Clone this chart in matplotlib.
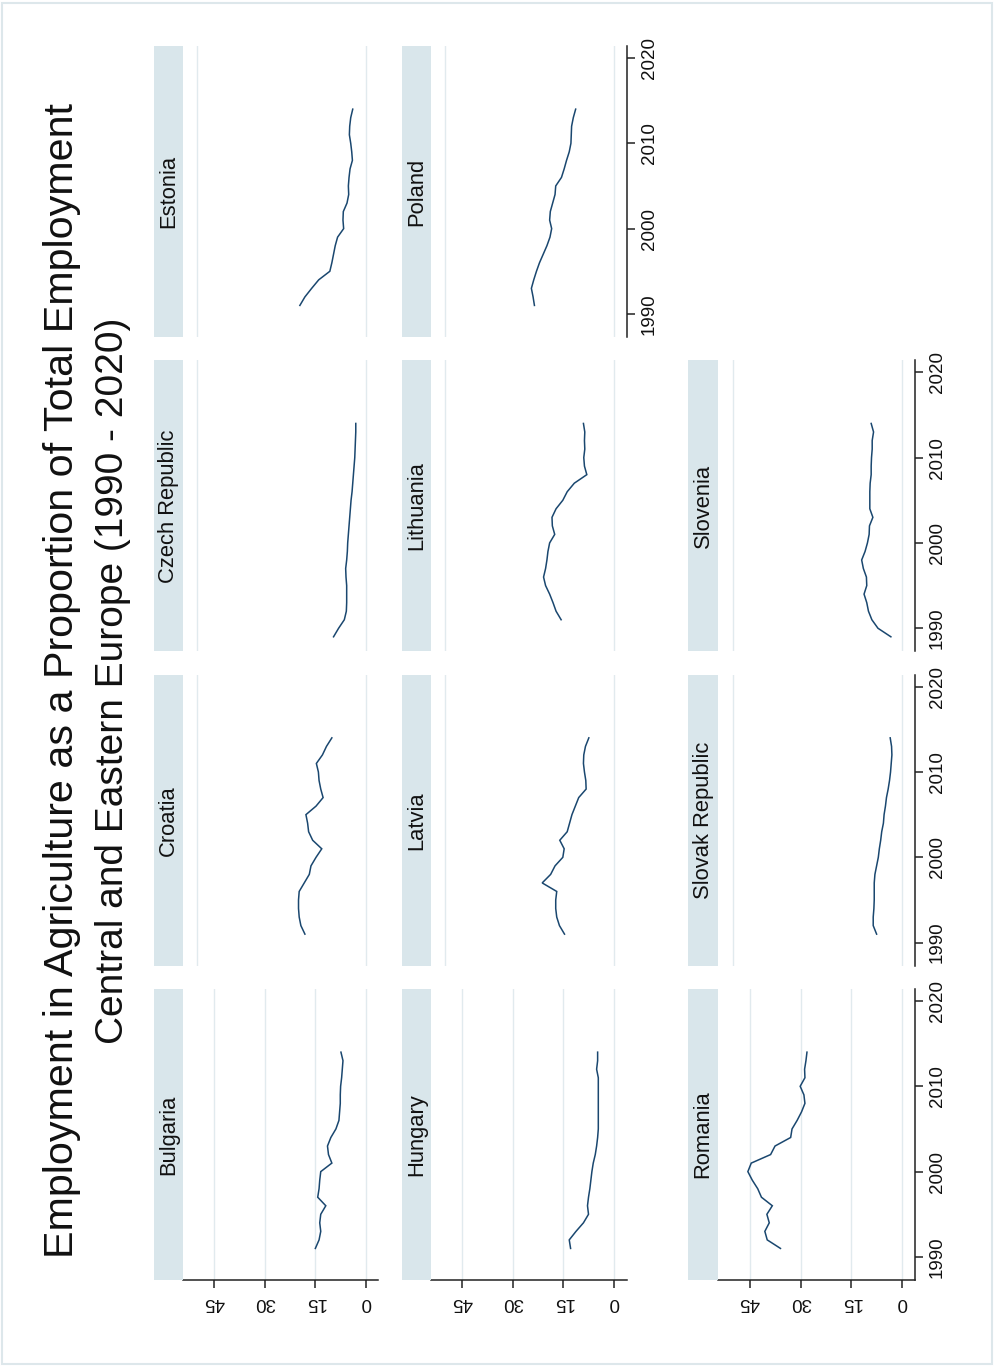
import matplotlib
matplotlib.use("Agg")
import matplotlib.pyplot as plt
from matplotlib.patches import Rectangle

plt.rcParams['font.family'] = ['Liberation Sans', 'DejaVu Sans']

# ---- data: agricultural employment, % of total employment ----
years_91 = list(range(1991, 2015))
years_89 = list(range(1989, 2015))

bulgaria = [14.9, 13.8, 13.3, 13.6, 13.3, 11.8, 14.2, 13.8, 13.6, 13.3, 10.0, 11.0,
            11.3, 10.3, 8.8, 7.9, 7.7, 7.5, 7.5, 7.4, 7.1, 6.9, 6.7, 7.3]
croatia = [18.0, 19.2, 19.7, 19.9, 19.9, 19.7, 18.2, 16.7, 16.2, 14.7, 13.0, 15.7,
           16.9, 17.2, 17.7, 14.7, 12.6, 13.3, 13.8, 14.0, 14.6, 12.8, 11.6, 10.0]
czech = [9.5, 8.0, 6.3, 5.7, 5.6, 5.6, 5.6, 5.8, 5.9, 5.6, 5.4, 5.3, 5.1,
         4.9, 4.7, 4.5, 4.3, 4.0, 3.8, 3.6, 3.4, 3.2, 3.1, 3.0, 2.9, 2.9]
estonia = [19.5, 18.0, 16.0, 13.9, 10.6, 10.0, 9.5, 9.0, 8.3, 6.5, 6.7, 6.6,
           5.5, 5.0, 5.1, 4.9, 4.6, 3.9, 4.1, 4.4, 4.8, 4.7, 4.4, 3.8]
hungary = [12.9, 13.3, 11.3, 9.1, 7.6, 7.9, 7.6, 7.2, 6.9, 6.6, 6.2, 5.6,
           5.2, 4.9, 4.7, 4.7, 4.7, 4.7, 4.7, 4.7, 4.7, 5.2, 4.9, 4.9]
latvia = [14.7, 16.2, 17.0, 17.3, 17.3, 17.0, 21.3, 18.8, 17.5, 15.2, 14.8, 16.1,
          13.9, 13.2, 12.5, 11.5, 10.5, 8.3, 8.4, 8.8, 9.1, 9.0, 8.5, 7.5]
lithuania = [15.7, 17.2, 18.1, 19.1, 20.3, 20.9, 20.3, 19.9, 19.6, 19.1, 17.6, 18.3,
             18.4, 17.2, 15.2, 13.9, 11.8, 8.1, 8.8, 9.0, 8.7, 8.8, 8.7, 9.1]
poland = [23.6, 24.0, 24.5, 23.8, 23.0, 22.1, 21.0, 19.9, 19.0, 18.5, 19.1, 18.9,
          18.2, 17.5, 17.3, 15.6, 14.8, 14.1, 13.3, 12.8, 12.7, 12.6, 12.1, 11.4]
romania = [35.9, 39.8, 40.5, 39.2, 39.9, 38.3, 41.5, 42.6, 44.2, 45.5, 44.5, 38.8,
           37.5, 32.9, 32.5, 31.0, 29.7, 28.7, 29.0, 30.1, 28.7, 28.8, 28.4, 28.1]
slovakia = [7.6, 8.6, 8.6, 8.4, 8.3, 8.3, 8.3, 8.1, 7.6, 7.1, 6.8, 6.4,
            6.1, 5.6, 5.4, 5.0, 4.7, 4.2, 3.8, 3.5, 3.3, 3.1, 3.2, 3.6]
slovenia = [3.4, 7.2, 9.0, 10.0, 10.5, 11.3, 10.5, 10.6, 11.5, 12.0, 11.0, 10.3, 9.8,
            9.7, 8.7, 9.6, 9.6, 9.6, 9.5, 9.2, 9.2, 9.1, 8.9, 8.9, 8.5, 9.2]

series = {
    "Bulgaria": (years_91, bulgaria),
    "Croatia": (years_91, croatia),
    "Czech Republic": (years_89, czech),
    "Estonia": (years_91, estonia),
    "Hungary": (years_91, hungary),
    "Latvia": (years_91, latvia),
    "Lithuania": (years_91, lithuania),
    "Poland": (years_91, poland),
    "Romania": (years_91, romania),
    "Slovak Republic": (years_91, slovakia),
    "Slovenia": (years_89, slovenia),
}

panel_grid = [
    ["Bulgaria", "Croatia", "Czech Republic", "Estonia"],
    ["Hungary", "Latvia", "Lithuania", "Poland"],
    ["Romania", "Slovak Republic", "Slovenia"],
]

value_ticks = [0, 15, 30, 45]
year_ticks = [1990, 2000, 2010, 2020]

title_1 = "Employment in Agriculture as a Proportion of Total Employment"
title_2 = "Central and Eastern Europe (1990 - 2020)"

# ---- styling ----
LINE = "#1a476f"
STRIP = "#d9e6eb"
GRID = "#e1eaee"
AXIS = "#222222"
TEXT = "#111111"

W, H = 995, 1366
fig = plt.figure(figsize=(W / 100, H / 100), dpi=100)
fig.patch.set_facecolor("white")


def box(x0, x1, y0, y1):
    """Pixel box (origin top-left) -> figure fraction rect."""
    return [x0 / W, 1 - y1 / H, (x1 - x0) / W, (y1 - y0) / H]


# the whole layout is turned a quarter turn: panel rows run left-to-right,
# panel columns run bottom-to-top
plot_x = [(183.0, 378.0), (431.0, 626.7), (718.3, 915.0)]
strip_x = [(154.3, 183.0), (402.3, 431.0), (687.7, 718.3)]
panel_y = [(989.0, 1280.0), (674.7, 965.7), (360.3, 651.3), (46.0, 337.0)]

for r, row in enumerate(panel_grid):
    for c, name in enumerate(row):
        y0, y1 = panel_y[c]
        ax = fig.add_axes(box(*plot_x[r], y0, y1))
        ax.set_facecolor("white")
        yrs, vals = series[name]
        ax.plot(vals, yrs, color=LINE, lw=1.1, solid_joinstyle="miter", zorder=3)
        ax.set_xlim(54.2, -3.7)
        ax.set_ylim(1987.3, 2021.4)

        grid_at = value_ticks if c == 0 else [0, 50]
        for g in grid_at:
            ax.axvline(g, color=GRID, lw=1.0, zorder=1)

        for s in ax.spines.values():
            s.set_visible(False)

        show_values = (c == 0)
        show_years = (r + 1 >= len(panel_grid)) or (c >= len(panel_grid[r + 1]))

        if show_values:
            ax.spines["bottom"].set_visible(True)
            ax.spines["bottom"].set_color(AXIS)
            ax.spines["bottom"].set_linewidth(1.1)
            ax.set_xticks(value_ticks)
            ax.set_xticklabels([str(v) for v in value_ticks], rotation=180,
                               fontsize=13.5, color=TEXT)
            ax.tick_params(axis="x", length=6, width=1.1, color=AXIS, pad=4)
        else:
            ax.set_xticks([])

        if show_years:
            ax.spines["right"].set_visible(True)
            ax.spines["right"].set_color(AXIS)
            ax.spines["right"].set_linewidth(1.1)
            ax.yaxis.tick_right()
            ax.set_yticks(year_ticks)
            ax.set_yticklabels([str(y) for y in year_ticks], rotation=90,
                               va="center", fontsize=13.5, color=TEXT)
            ax.tick_params(axis="y", length=6, width=1.1, color=AXIS, pad=4)
        else:
            ax.set_yticks([])

        sax = fig.add_axes(box(*strip_x[r], y0, y1))
        sax.set_facecolor(STRIP)
        for s in sax.spines.values():
            s.set_visible(False)
        sax.set_xticks([])
        sax.set_yticks([])
        sax.text(0.5, 0.5, name, rotation=90, ha="center", va="center",
                 fontsize=15.8, color=TEXT, transform=sax.transAxes)

fig.text(62 / W, 1 - 681 / H, title_1, rotation=90, ha="center", va="center",
         fontsize=29.7, color=TEXT)
fig.text(113 / W, 1 - 681 / H, title_2, rotation=90, ha="center", va="center",
         fontsize=28.0, color=TEXT)

fig.patches.append(Rectangle((2.5 / W, 2.5 / H), (W - 5) / W, (H - 5) / H,
                             transform=fig.transFigure, fill=False,
                             edgecolor="#dde7eb", lw=1.5))

fig.savefig("out.png", dpi=100)
